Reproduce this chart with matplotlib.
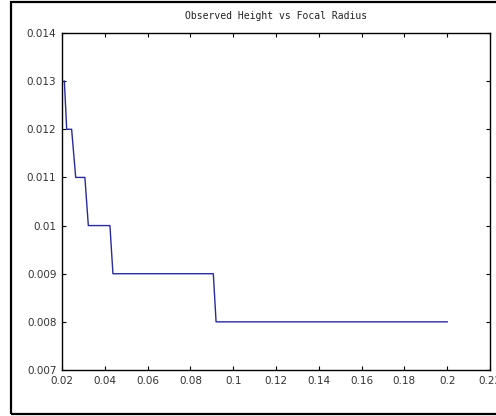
import matplotlib
matplotlib.use("Agg")
import matplotlib.pyplot as plt
from matplotlib.patches import Rectangle
from matplotlib.ticker import FuncFormatter, MultipleLocator

# Focal radius samples and the observed height at each
focal_radius = [0.0211, 0.0222, 0.0245, 0.0264, 0.0307, 0.0323,
                0.0424, 0.0438, 0.0907, 0.0920, 0.2000]
observed_height = [0.013, 0.012, 0.012, 0.011, 0.011, 0.010,
                   0.010, 0.009, 0.009, 0.008, 0.008]

title_text = "Observed Height vs Focal Radius"

fig = plt.figure(figsize=(4.96, 4.16), dpi=100)
ax = fig.add_axes([62 / 496, 1 - 370 / 416, (490 - 62) / 496, (370 - 33) / 416])

ax.plot(focal_radius, observed_height, color="#2a2a9c", linewidth=1.0)

ax.set_xlim(0.02, 0.22)
ax.set_ylim(0.007, 0.014)
ax.xaxis.set_major_locator(MultipleLocator(0.02))
ax.yaxis.set_major_locator(MultipleLocator(0.001))
fmt = FuncFormatter(lambda v, _: "%g" % round(v, 6))
ax.xaxis.set_major_formatter(fmt)
ax.yaxis.set_major_formatter(fmt)

ax.tick_params(direction="in", length=3, width=0.8, top=True, right=True,
               labelsize=7.5, labelcolor="#333333", pad=4)
for s in ax.spines.values():
    s.set_linewidth(1.0)
    s.set_color("black")

ax.set_title(title_text, family="DejaVu Sans Mono", fontsize=7, pad=10,
             color="#222222")

# outer frame around the figure
fig.add_artist(Rectangle((11 / 496, 2 / 416), 1.1, 1 - 4 / 416,
                         transform=fig.transFigure, fill=False,
                         edgecolor="black", linewidth=1.6, clip_on=False))

fig.savefig("out.png", dpi=100)
